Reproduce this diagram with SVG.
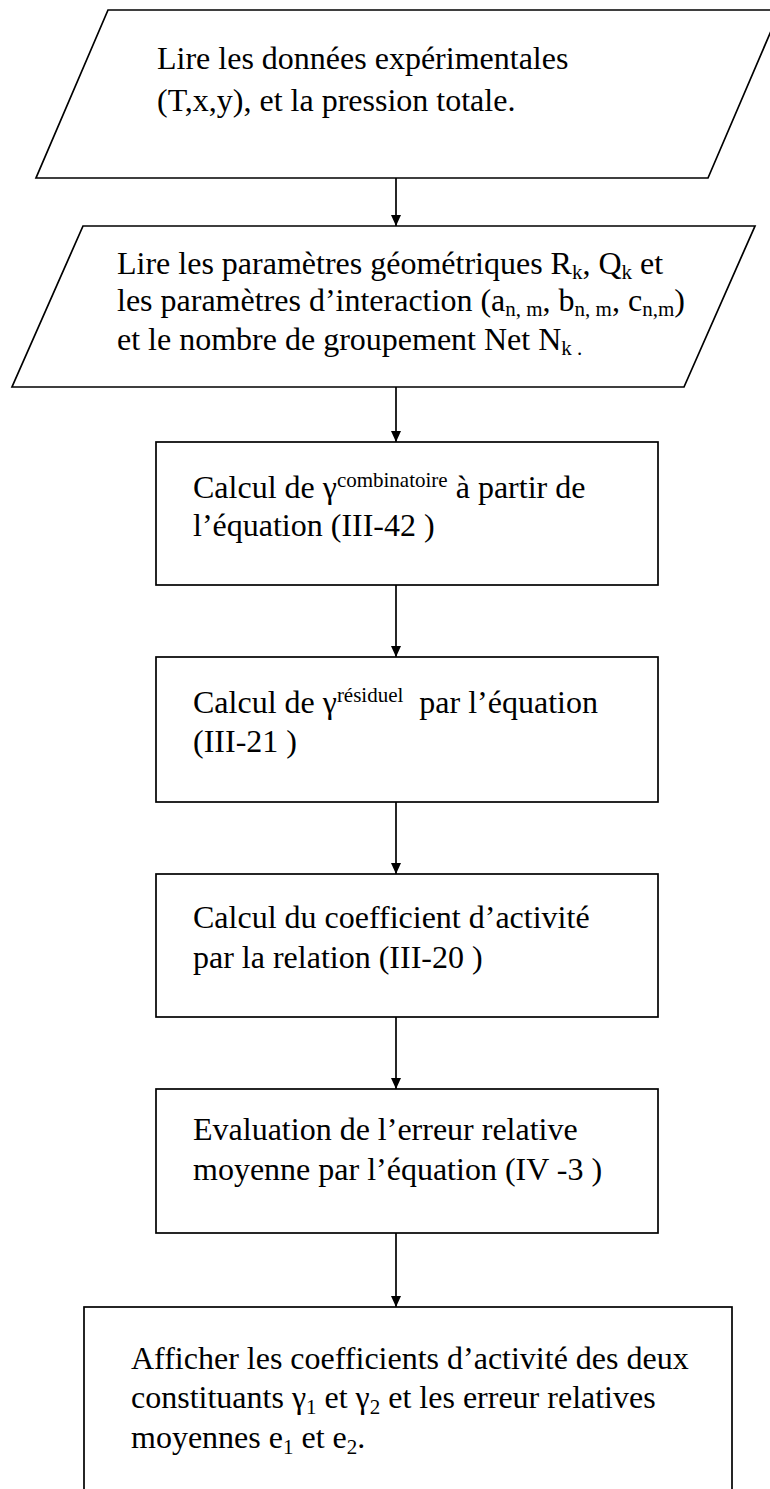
<svg xmlns="http://www.w3.org/2000/svg" width="770" height="1489" viewBox="0 0 770 1489">
<style>
.shape{fill:#fff;stroke:#000;stroke-width:1.7}
.t{font-family:"Liberation Serif","Times New Roman",serif;font-size:32px;fill:#000}
.s{font-size:21px}
.link{stroke:#000;stroke-width:1.7;fill:none;marker-end:url(#ah)}
</style>
<defs>
<marker id="ah" markerWidth="11" markerHeight="11" refX="11" refY="5.5" orient="auto" markerUnits="userSpaceOnUse"><path d="M0,0.5 L11,5.5 L0,10.5 z" fill="#000"/></marker>
</defs>
<rect width="770" height="1489" fill="#fff"/>

<!-- connectors -->
<g id="connectors">
<line class="link" x1="396" y1="178" x2="396" y2="226"/>
<line class="link" x1="396" y1="387" x2="396" y2="442"/>
<line class="link" x1="396" y1="585" x2="396" y2="657"/>
<line class="link" x1="396" y1="802" x2="396" y2="874"/>
<line class="link" x1="396" y1="1017" x2="396" y2="1089"/>
<line class="link" x1="396" y1="1233" x2="396" y2="1307"/>
</g>

<!-- input: experimental data -->
<g id="read-data">
<polygon class="shape" points="108,10 780,10 708,178 36,178"/>
<text class="t" x="157" y="69">Lire les données expérimentales</text>
<text class="t" x="157" y="111">(T,x,y), et la pression totale.</text>
</g>

<!-- input: group parameters -->
<g id="read-params">
<polygon class="shape" points="83,226 755,226 684,387 12,387"/>
<text class="t" x="117" y="274">Lire les paramètres géométriques R<tspan class="s" dy="5">k</tspan><tspan dy="-5">, Q</tspan><tspan class="s" dy="5">k</tspan><tspan dy="-5"> et</tspan></text>
<text class="t" x="117" y="311">les paramètres d’interaction (a<tspan class="s" dy="5">n, m</tspan><tspan dy="-5">, b</tspan><tspan class="s" dy="5">n, m</tspan><tspan dy="-5">, c</tspan><tspan class="s" dy="5">n,m</tspan><tspan dy="-5">)</tspan></text>
<text class="t" x="117" y="350">et le nombre de groupement Net N<tspan class="s" dy="5">k .</tspan></text>
</g>

<!-- combinatorial part -->
<g id="gamma-comb">
<rect class="shape" x="156" y="442" width="502" height="143"/>
<text class="t" x="193" y="498">Calcul de γ<tspan class="s" dy="-11">combinatoire</tspan><tspan dy="11"> à partir de</tspan></text>
<text class="t" x="193" y="536">l’équation (III-42 )</text>
</g>

<!-- residual part -->
<g id="gamma-res">
<rect class="shape" x="156" y="657" width="502" height="145"/>
<text class="t" x="193" y="713">Calcul de γ<tspan class="s" dy="-11">résiduel</tspan><tspan dy="11" dx="8"> par l’équation</tspan></text>
<text class="t" x="193" y="752">(III-21 )</text>
</g>

<!-- activity coefficient -->
<g id="activity">
<rect class="shape" x="156" y="874" width="502" height="143"/>
<text class="t" x="193" y="928">Calcul du coefficient d’activité</text>
<text class="t" x="193" y="968">par la relation (III-20 )</text>
</g>

<!-- mean relative error -->
<g id="error">
<rect class="shape" x="156" y="1089" width="502" height="144"/>
<text class="t" x="193" y="1140">Evaluation de l’erreur relative</text>
<text class="t" x="193" y="1180">moyenne par l’équation (IV -3 )</text>
</g>

<!-- output -->
<g id="display">
<rect class="shape" x="84" y="1307" width="648" height="200"/>
<text class="t" x="131" y="1369">Afficher les coefficients d’activité des deux</text>
<text class="t" x="131" y="1408">constituants γ<tspan class="s" dy="6">1</tspan><tspan dy="-6"> et γ</tspan><tspan class="s" dy="6">2</tspan><tspan dy="-6"> et les erreur relatives</tspan></text>
<text class="t" x="131" y="1448">moyennes e<tspan class="s" dy="6">1</tspan><tspan dy="-6"> et e</tspan><tspan class="s" dy="6">2</tspan><tspan dy="-6">.</tspan></text>
</g>
</svg>
